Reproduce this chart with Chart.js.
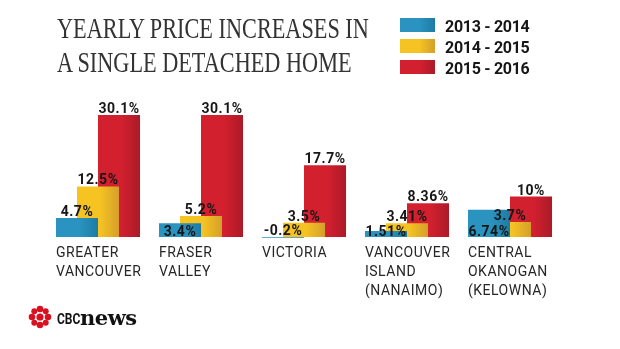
<!DOCTYPE html>
<html>
<head>
<meta charset="utf-8">
<script src="https://cdn.jsdelivr.net/npm/chart.js@4.4.1/dist/chart.umd.min.js"></script>
<style>
html, body { margin: 0; padding: 0; background: #fff; width: 620px; height: 349px; overflow: hidden; }
body { position: relative; }
#c { position: absolute; left: 0; top: 0; }
.title { position: absolute; left: 57px; top: 12.3px; font-family: "Liberation Serif", serif; font-size: 29.5px;
  line-height: 33.5px; color: #333; transform: scaleX(0.755); transform-origin: 0 0; white-space: nowrap; }
.lg-box { position: absolute; left: 400px; width: 35px; height: 14.3px; }
.lg-text { position: absolute; left: 445px; font-family: Roboto, sans-serif; font-weight: bold; font-size: 16px;
  line-height: 16px; letter-spacing: -0.3px; color: #161616; white-space: nowrap; }
.cbc1 { position: absolute; left: 57px; top: 312.4px; font-family: Roboto, sans-serif; font-weight: bold; font-size: 15px;
  line-height: 15px; color: #111; transform: scaleX(0.8); transform-origin: 0 0; }
.cbc2 { position: absolute; left: 80px; top: 307.2px; font-family: "DejaVu Serif", serif; font-weight: bold; font-size: 21px;
  line-height: 21px; color: #111; letter-spacing: -0.5px; }
.gem { position: absolute; left: 27px; top: 304px; }
</style>
</head>
<body>
<canvas id="c" width="620" height="349"></canvas>
<div class="title">YEARLY PRICE INCREASES IN<br>A SINGLE DETACHED HOME</div>
<div id="legend"></div>
<svg class="gem" width="26" height="26" viewBox="0 0 26 26">
  <g fill="#d8101f">
    <circle cx="13" cy="13" r="3.6"/>
    <circle cx="13" cy="5" r="3.3"/>
    <circle cx="13" cy="21" r="3.3"/>
    <circle cx="5" cy="13" r="3.3"/>
    <circle cx="21" cy="13" r="3.3"/>
    <circle cx="7.3" cy="7.3" r="3"/>
    <circle cx="18.7" cy="7.3" r="3"/>
    <circle cx="7.3" cy="18.7" r="3"/>
    <circle cx="18.7" cy="18.7" r="3"/>
  </g>
</svg>
<div class="cbc1">CBC</div>
<div class="cbc2">news</div>
<script>
// Datos del gráfico
const categories = [
    ['GREATER', 'VANCOUVER'],
    ['FRASER', 'VALLEY'],
    ['VICTORIA'],
    ['VANCOUVER', 'ISLAND', '(NANAIMO)'],
    ['CENTRAL', 'OKANOGAN', '(KELOWNA)']
];
const seriesNames = ['2013 - 2014', '2014 - 2015', '2015 - 2016'];
const values1314 = [4.7, 3.4, -0.2, 1.51, 6.74];
const values1415 = [12.5, 5.2, 3.5, 3.41, 3.7];
const values1516 = [30.1, 30.1, 17.7, 8.36, 10];

// Colores (claro a la izquierda, oscuro a la derecha)
const colours = [['#2a93bf', '#1d7ca5'], ['#f5c322', '#d49f2a'], ['#d3202f', '#ab1a28']];

// Leyenda en HTML
const legend = document.getElementById('legend');
seriesNames.forEach((name, i) => {
    const top = 17.6 + i * 21;
    const box = document.createElement('div');
    box.className = 'lg-box';
    box.style.top = top + 'px';
    box.style.background = 'linear-gradient(to right, ' + colours[i][0] + ' 55%, ' + colours[i][1] + ')';
    const txt = document.createElement('div');
    txt.className = 'lg-text';
    txt.style.top = (top + 1.1) + 'px';
    txt.textContent = name;
    legend.appendChild(box);
    legend.appendChild(txt);
});

// Degradado horizontal por barra
function barFill(light, dark) {
    return (ctx) => {
        const el = ctx.element;
        if (!el || !el.width) return light;
        const x0 = el.x - el.width / 2;
        const g = ctx.chart.ctx.createLinearGradient(x0, 0, x0 + el.width, 0);
        g.addColorStop(0, light);
        g.addColorStop(0.55, light);
        g.addColorStop(1, dark);
        return g;
    };
}

// Etiquetas de valores y de categorías
const barText = {
    id: 'barText',
    afterDatasetsDraw(chart) {
        const c = chart.ctx;
        const y0 = chart.scales.y.getPixelForValue(0);
        const capH = 10;
        c.save();
        c.font = 'bold 14px Roboto';
        c.letterSpacing = '0.5px';
        c.fillStyle = '#161616';
        c.textAlign = 'center';
        c.textBaseline = 'alphabetic';

        const boxes = chart.data.datasets.map((ds, i) => chart.getDatasetMeta(i).data.map((el, j) => {
            const text = ds.data[j] + '%';
            const w = c.measureText(text).width;
            const top = Math.min(el.y, el.base);
            return { text: text, x: el.x, w: w, yb: top - 2, el: el };
        }));

        // si la etiqueta amarilla estorba, la azul va abajo dentro de la barra
        boxes[0].forEach((b, j) => {
            const o = boxes[1][j];
            const overlapX = (l, r) => o.x - o.w / 2 < r && o.x + o.w / 2 > l;
            const barTop = Math.min(b.el.y, b.el.base);
            const barHit = overlapX(b.el.x - b.el.width / 2, b.el.x + b.el.width / 2) && o.yb > barTop;
            const labHit = overlapX(b.x - b.w / 2, b.x + b.w / 2) && o.yb > b.yb - capH && o.yb - capH < b.yb;
            if (barHit || labHit) b.yb = y0 - 1;
        });

        boxes.forEach(list => list.forEach(b => c.fillText(b.text, b.x, b.yb)));

        // categorías alineadas a la izquierda del grupo
        c.font = '14px Roboto';
        c.fillStyle = '#262626';
        c.textAlign = 'left';
        const meta = chart.getDatasetMeta(0);
        chart.data.labels.forEach((lines, j) => {
            const el = meta.data[j];
            const x = el.x - el.width / 2;
            lines.forEach((line, k) => c.fillText(line, x, y0 + 20 + k * 19));
        });
        c.restore();
    }
};

const ds = (label, data, i) => ({
    label: label,
    data: data,
    backgroundColor: barFill(colours[i][0], colours[i][1]),
    borderWidth: 0,
    categoryPercentage: 0.612,
    barPercentage: 2
});

const chart = new Chart(document.getElementById('c'), {
    type: 'bar',
    data: {
        labels: categories,
        datasets: [
            ds(seriesNames[0], values1314, 0),
            ds(seriesNames[1], values1415, 1),
            ds(seriesNames[2], values1516, 2)
        ]
    },
    options: {
        responsive: false,
        animation: false,
        devicePixelRatio: 1,
        layout: { padding: { left: 46.5, right: 58.5, top: 107.4, bottom: 99.85 } },
        plugins: {
            legend: { display: false },
            tooltip: { enabled: false }
        },
        scales: {
            x: { display: false },
            y: { display: false, min: -3, max: 32 }
        }
    },
    plugins: [barText]
});
chart.update();
</script>
</body>
</html>
